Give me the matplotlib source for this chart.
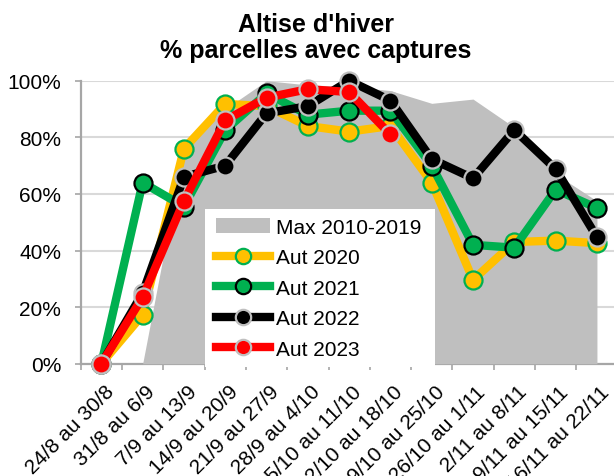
import numpy as np
import matplotlib
matplotlib.use("Agg")
import matplotlib.pyplot as plt
from matplotlib.patches import Rectangle, Patch
from matplotlib.lines import Line2D
import matplotlib.transforms as mtransforms

plt.rcParams['font.family'] = ['Liberation Sans', 'DejaVu Sans']

categories = ["24/8 au 30/8", "31/8 au 6/9", "7/9 au 13/9", "14/9 au 20/9",
              "21/9 au 27/9", "28/9 au 4/10", "5/10 au 11/10", "12/10 au 18/10",
              "19/10 au 25/10", "26/10 au 1/11", "2/11 au 8/11", "9/11 au 15/11",
              "16/11 au 22/11"]

max_2010_2019 = [0, 0, 76, 90, 100, 98.5, 98, 96.5, 92, 93.5, 83.5, 67, 57.5]
aut_2020 = [0, 17.3, 76, 91.8, 91, 84, 82, 84, 64, 29.6, 43, 43.5, 42.6]
aut_2021 = [0, 64, 55.5, 82.5, 95.5, 88, 89.4, 89.4, 70, 42, 41, 61.5, 55]
aut_2022 = [0, 25, 66, 70, 88.5, 91, 100, 93, 72.3, 65.5, 82.6, 68.8, 44.7]
aut_2023 = [0, 23.5, 57.5, 86, 94, 97, 96, 81]

yticks = [0, 20, 40, 60, 80, 100]
ytick_labels = ["0%", "20%", "40%", "60%", "80%", "100%"]

W, H = 614, 477
fig = plt.figure(figsize=(W / 100, H / 100), dpi=100)
left_px, right_px, top_px, bottom_px = 80.7, 617.6, 81.7, 364.7
ax = fig.add_axes([left_px / W, 1 - bottom_px / H,
                   (right_px - left_px) / W, (bottom_px - top_px) / H])

x = np.arange(len(categories))
ax.set_xlim(-0.5, len(categories) - 0.5)
ax.set_ylim(0, 100)

# grid
ax.set_axisbelow(True)
ax.yaxis.grid(True, color='#D9D9D9', lw=1.5)
ax.xaxis.grid(False)

# area
ax.fill_between(x, 0, max_2010_2019, color='#BFBFBF', lw=0, zorder=1)

lw = 6.0
ms = 13
series = [
    (aut_2020, '#FFC000', '#FFC000', '#00B050', 'Aut 2020'),
    (aut_2021, '#00B050', '#00B050', '#000000', 'Aut 2021'),
    (aut_2022, '#000000', '#000000', '#BFBFBF', 'Aut 2022'),
    (aut_2023, '#FF0000', '#FF0000', '#BFBFBF', 'Aut 2023'),
]
handles = [Patch(facecolor='#BFBFBF', edgecolor='none', label='Max 2010-2019')]
for i, (vals, lc, mfc, mec, lab) in enumerate(series):
    xx = np.arange(len(vals))
    ax.plot(xx, vals, color=lc, lw=lw, marker='o', ms=ms, mfc=mfc, mec=mec,
            mew=1.6, solid_joinstyle='miter', zorder=3 + i, clip_on=False)
    handles.append(Line2D([], [], color=lc, lw=lw, marker='o', ms=ms * 0.85,
                          mfc=mfc, mec=mec, mew=1.6, label=lab))

# spines
for s in ['top', 'right']:
    ax.spines[s].set_visible(False)
for s in ['left', 'bottom']:
    ax.spines[s].set_color('#A6A6A6')
    ax.spines[s].set_linewidth(1.6)
    ax.spines[s].set_zorder(0.8)

# y ticks
ax.set_yticks(yticks)
ax.set_yticklabels(ytick_labels)
ax.tick_params(axis='y', direction='out', length=4, width=1.2, color='#A6A6A6',
               pad=10, labelsize=15, labelcolor='#000000')

# x ticks
ax.set_xticks(x)
ax.set_xticklabels(categories, rotation=45, ha='right', va='top',
                   rotation_mode='anchor')
ax.set_xticks(np.arange(-0.5, len(categories)), minor=True)
ax.tick_params(axis='x', which='major', length=0, pad=13, labelsize=15,
               labelcolor='#000000')
ax.tick_params(axis='x', which='minor', direction='out', length=4, width=1.2,
               color='#A6A6A6')
offset = mtransforms.ScaledTranslation(3 / 100, 0, fig.dpi_scale_trans)
for lbl in ax.get_xticklabels():
    lbl.set_transform(lbl.get_transform() + offset)

# legend box
lx0 = (205 - left_px) / (right_px - left_px)
lx1 = (435 - left_px) / (right_px - left_px)
ly1 = (bottom_px - 210) / (bottom_px - top_px)
ax.add_patch(Rectangle((lx0, -0.01), lx1 - lx0, ly1 + 0.01, transform=ax.transAxes,
                       facecolor='white', edgecolor='none', zorder=8, clip_on=False))
leg = ax.legend(handles=handles, loc='upper left',
                bbox_to_anchor=(lx0 + 0.012, ly1 - 0.016), borderaxespad=0,
                frameon=False, fontsize=15, handlelength=2.6, handletextpad=0.3,
                labelspacing=0.55, borderpad=0.2)
leg.set_zorder(9)

# title
fig.text(0.514, 1 - 32 / H, "Altise d'hiver", ha='center', va='baseline',
         fontsize=18, fontweight='bold')
fig.text(0.514, 1 - 58 / H, "% parcelles avec captures", ha='center',
         va='baseline', fontsize=18, fontweight='bold')

fig.savefig('out.png', dpi=100)
